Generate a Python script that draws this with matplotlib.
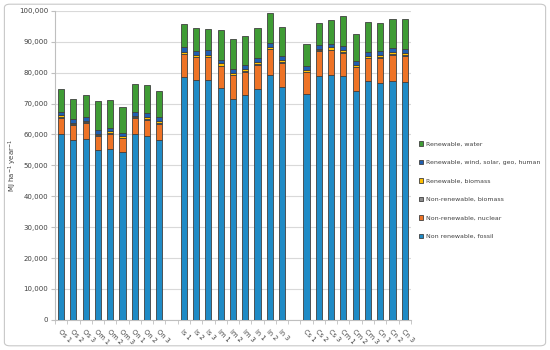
import numpy as np
import matplotlib.pyplot as plt
from matplotlib.patches import FancyBboxPatch
from matplotlib.ticker import FuncFormatter, MultipleLocator

labels = ["Os 1", "Os 2", "Os 3", "Om 1", "Om 2", "Om 3", "On 1", "On 2", "On 3",
          "Is 1", "Is 2", "Is 3", "Im 1", "Im 2", "Im 3", "In 1", "In 2", "In 3",
          "Cs 1", "Cs 2", "Cs 3", "Cm 1", "Cm 2", "Cm 3", "Cn 1", "Cn 2", "Cn 3"]

# thousands of MJ ha-1 year-1
fossil = [60.3, 58.2, 58.6, 54.9, 55.4, 54.2, 60.1, 59.5, 58.3,
          78.7, 77.5, 77.5, 74.9, 71.6, 72.7, 74.7, 79.1, 75.2,
          73.1, 78.9, 79.3, 78.9, 74.1, 77.3, 76.6, 77.4, 77.0]
nuclear = [5.1, 4.9, 5.2, 4.6, 4.9, 4.6, 5.3, 5.3, 5.1,
           7.2, 7.5, 7.5, 7.2, 7.5, 7.6, 7.8, 8.5, 8.0,
           7.0, 8.1, 7.9, 7.6, 7.6, 7.3, 8.2, 8.4, 8.5]
nr_biomass = [0.2] * 27
r_biomass = [0.7, 0.4, 0.5, 0.6, 0.5, 0.4, 0.4, 0.7, 0.6,
             0.7, 0.5, 0.5, 0.7, 0.5, 0.6, 0.6, 0.6, 0.7,
             0.6, 0.6, 0.8, 0.6, 0.6, 0.7, 0.7, 0.7, 0.8]
r_wind = [1.1, 1.3, 1.3, 1.3, 1.2, 1.2, 1.3, 1.2, 1.3,
          1.4, 1.4, 1.5, 1.2, 1.3, 1.4, 1.3, 1.3, 1.2,
          1.2, 1.0, 1.1, 1.3, 1.2, 1.3, 1.3, 1.3, 1.2]
r_water = [7.2, 6.6, 7.0, 9.1, 9.0, 8.4, 9.1, 9.0, 8.7,
           7.4, 7.2, 7.0, 9.5, 9.7, 9.3, 9.7, 9.5, 9.4,
           7.3, 7.4, 7.8, 9.7, 8.9, 9.7, 9.2, 9.5, 9.6]

series = [
    ("Non renewable, fossil", fossil, "#1f8bc6"),
    ("Non-renewable, nuclear", nuclear, "#ee7326"),
    ("Non-renewable, biomass", nr_biomass, "#8c8c8c"),
    ("Renewable, biomass", r_biomass, "#ffbf00"),
    ("Renewable, wind, solar, geo, human", r_wind, "#1f5fb0"),
    ("Renewable, water", r_water, "#3f9c35"),
]

x = np.r_[0:9, 10:19, 20:29]

fig = plt.figure(figsize=(5.5, 3.5), dpi=100)
ax = fig.add_axes([0.1, 0.086, 0.647, 0.883])

bottom = np.zeros(len(x))
for name, vals, col in series:
    v = np.array(vals) * 1000
    ax.bar(x, v, 0.5, bottom=bottom, color=col, edgecolor="#404040",
           linewidth=0.6, label=name, zorder=3)
    bottom += v

ax.set_xlim(-0.5, 28.5)
ax.set_ylim(0, 100000)
ax.yaxis.set_major_locator(MultipleLocator(10000))
ax.yaxis.set_major_formatter(FuncFormatter(lambda v, p: f"{int(v):,}"))
ax.grid(axis="y", color="#d9d9d9", linewidth=0.8, zorder=0)
ax.set_xticks(x)
ax.set_xticklabels(labels, rotation=-45, ha="left", rotation_mode="anchor",
                   fontsize=4.8, color="#404040")
ax.set_xticks(np.arange(-0.5, 29, 1), minor=True)
ax.tick_params(axis="x", which="major", length=0, pad=6)
ax.tick_params(axis="x", which="minor", length=3, color="#bfbfbf")
ax.tick_params(axis="y", labelsize=5, colors="#404040", length=3, pad=2)
ax.tick_params(axis="y", color="#bfbfbf")
for s in ["top", "right"]:
    ax.spines[s].set_visible(False)
for s in ["left", "bottom"]:
    ax.spines[s].set_color("#bfbfbf")
ax.set_ylabel("MJ ha$^{-1}$ year$^{-1}$", fontsize=5, color="#404040")
ax.yaxis.set_label_coords(-0.1, 0.5)

h, l = ax.get_legend_handles_labels()
ax.legend(h[::-1], l[::-1], loc="center left", bbox_to_anchor=(1.01, 0.42),
          frameon=False, fontsize=4.5, handlelength=0.7, handleheight=0.7,
          labelspacing=2.1, handletextpad=0.4, labelcolor="#404040",
          borderaxespad=0.3)

fig.patches.append(FancyBboxPatch((0.008, 0.012), 0.984, 0.976,
                                  boxstyle="round,pad=0,rounding_size=0.01",
                                  transform=fig.transFigure, fill=False,
                                  edgecolor="#c8c8c8", linewidth=0.8))

fig.savefig("out.png", dpi=100)
